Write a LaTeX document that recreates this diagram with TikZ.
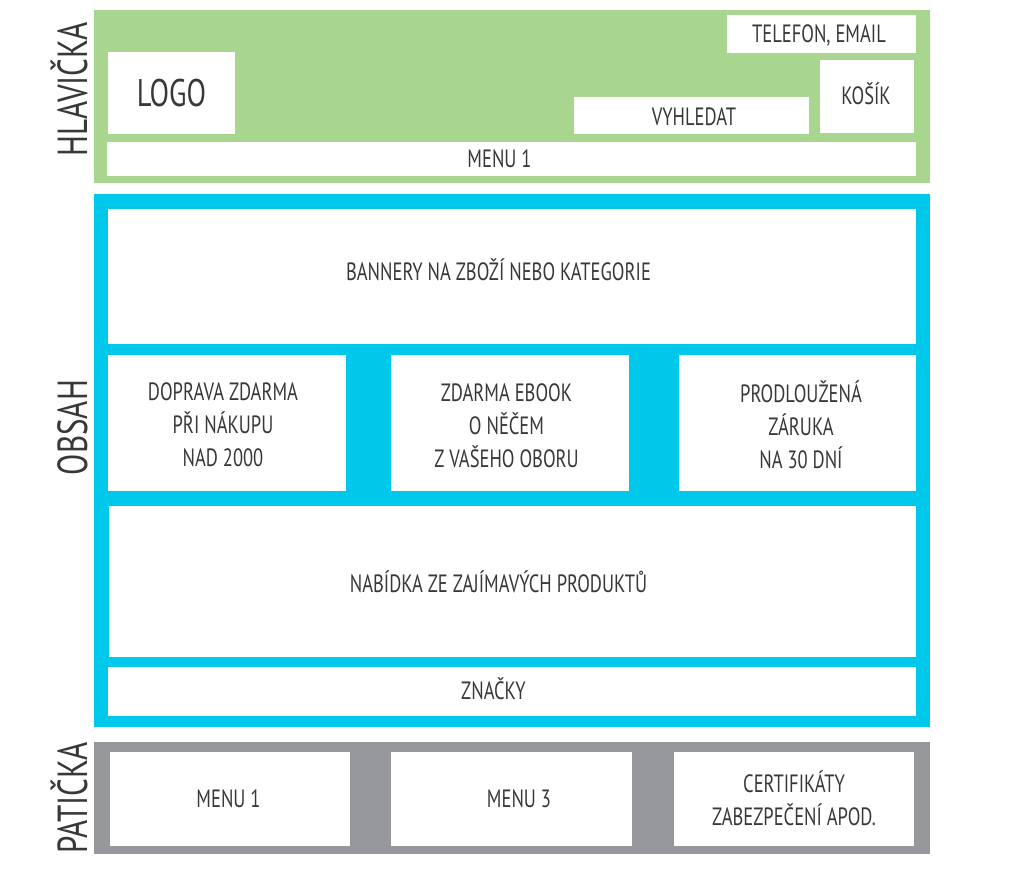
\documentclass[tikz,border=0pt]{standalone}
\usepackage{fontspec}
\setmainfont{PT Sans}[FakeStretch=0.74]
\definecolor{hgreen}{HTML}{A9D68F}
\definecolor{oblue}{HTML}{00C8EA}
\definecolor{fgray}{HTML}{97989C}
\definecolor{txt}{HTML}{383838}
\tikzset{
  wbox/.style={fill=white, draw=none, inner sep=0pt},
  lbl/.style={anchor=base, inner sep=0pt, align=center, text=txt,
    font=\fontsize{25}{33}\selectfont},
  sidelabel/.style={rotate=90, anchor=base, text=txt, inner sep=0pt,
    font=\fontsize{42}{42}\selectfont}
}
\begin{document}
\begin{tikzpicture}[x=1pt,y=-1pt]
\useasboundingbox[fill=white] (0,0) rectangle (1024,884);
% sections
\fill[hgreen] (94,10) rectangle (930,183);
\fill[oblue] (94,194) rectangle (930,727);
\fill[fgray] (94,742) rectangle (930,854);
% side labels
\node[sidelabel] (lh) at (87,89.5) {HLAVIČKA};
\node[sidelabel] (lo) at (87,427.5) {OBSAH};
\node[sidelabel] (lp) at (87,798) {PATIČKA};
% header boxes
\node[wbox, minimum width=127, minimum height=82] (logo) at (171.5,93) {};
\node[wbox, minimum width=189, minimum height=38] (tel) at (821.5,34) {};
\node[wbox, minimum width=94, minimum height=73] (kosik) at (867,96.5) {};
\node[wbox, minimum width=235, minimum height=37] (vyh) at (691.5,115.5) {};
\node[wbox, minimum width=809, minimum height=34] (menuh) at (511.5,159) {};
% content boxes
\node[wbox, minimum width=808, minimum height=135] (banner) at (512,276.5) {};
\node[wbox, minimum width=238, minimum height=136] (b1) at (227,423) {};
\node[wbox, minimum width=238, minimum height=136] (b2) at (510,423) {};
\node[wbox, minimum width=237, minimum height=136] (b3) at (797.5,423) {};
\node[wbox, minimum width=807, minimum height=151] (nab) at (512.5,581.5) {};
\node[wbox, minimum width=808, minimum height=49] (zn) at (512,691.5) {};
% footer boxes
\node[wbox, minimum width=240, minimum height=94] (f1) at (230,799) {};
\node[wbox, minimum width=241, minimum height=94] (f2) at (511.5,799) {};
\node[wbox, minimum width=240, minimum height=94] (f3) at (794,799) {};
% texts
\node[lbl, font=\fontsize{38.5}{38.5}\selectfont] (tlogo) at (171.5,106) {LOGO};
\node[lbl] (ttel) at (819,42) {TELEFON, EMAIL};
\node[lbl] (tkosik) at (866,104) {KOŠÍK};
\node[lbl] (tvyh) at (694,125) {VYHLEDAT};
\node[lbl] (tmenuh) at (499.5,167) {MENU 1};
\node[lbl] (tbanner) at (498.5,280) {BANNERY NA ZBOŽÍ NEBO KATEGORIE};
\node[lbl] (tb1) at (223,466) {DOPRAVA ZDARMA\\PŘI NÁKUPU\\NAD 2000};
\node[lbl] (tb2) at (506.5,467) {ZDARMA EBOOK\\O NĚČEM\\Z VAŠEHO OBORU};
\node[lbl] (tb3) at (801,468) {PRODLOUŽENÁ\\ZÁRUKA\\NA 30 DNÍ};
\node[lbl] (tnab) at (498.5,592) {NABÍDKA ZE ZAJÍMAVÝCH PRODUKTŮ};
\node[lbl] (tzn) at (493.5,699) {ZNAČKY};
\node[lbl] (tf1) at (228.5,807) {MENU 1};
\node[lbl] (tf2) at (519,807) {MENU 3};
\node[lbl] (tf3) at (794,825) {CERTIFIKÁTY\\ZABEZPEČENÍ APOD.};
\end{tikzpicture}
\end{document}
